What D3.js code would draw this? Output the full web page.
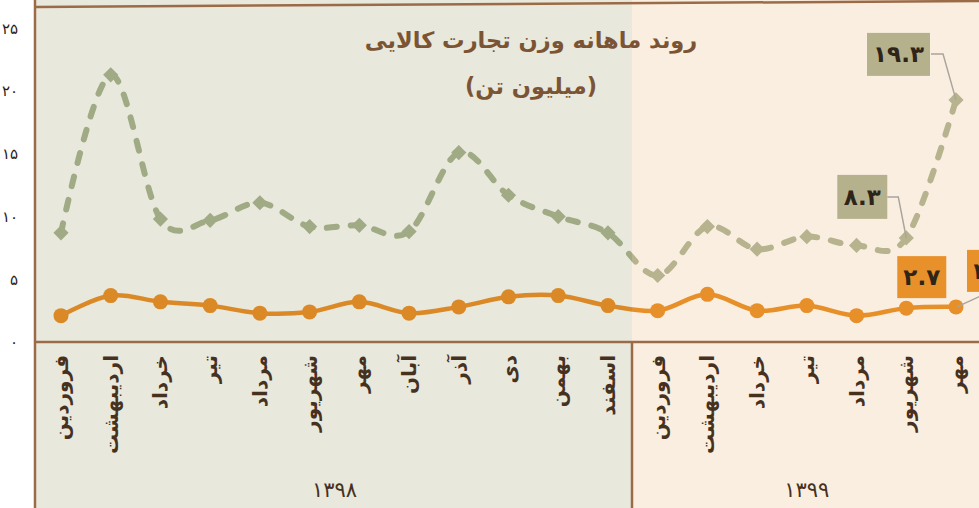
<!DOCTYPE html>
<html>
<head>
<meta charset="utf-8">
<script src="https://cdn.jsdelivr.net/npm/d3@7"></script>
<style>
  body { margin: 0; background: #fff; }
  svg { display: block; font-family: "DejaVu Sans", sans-serif; }
</style>
</head>
<body>
<svg id="chart" width="979" height="508"></svg>
<script>
// ماه‌ها و سال‌ها
var months = ["فروردین", "اردیبهشت", "خرداد", "تیر", "مرداد", "شهریور", "مهر", "آبان", "آذر", "دی", "بهمن", "اسفند",
              "فروردین", "اردیبهشت", "خرداد", "تیر", "مرداد", "شهریور", "مهر"];
var years = ["۱۳۹۸", "۱۳۹۹"];
var yearStart = [0, 12]; // index of first month of each year

// series values (million tonnes)
var seriesA = [8.7, 21.3, 9.8, 9.7, 11.1, 9.2, 9.3, 8.8, 15.1, 11.7, 10.0, 8.7,
               5.3, 9.2, 7.4, 8.4, 7.7, 8.3, 19.3];
var seriesB = [2.1, 3.7, 3.2, 2.9, 2.3, 2.4, 3.2, 2.3, 2.8, 3.6, 3.7, 2.9,
               2.5, 3.8, 2.5, 2.9, 2.1, 2.7, 2.8];

var yTicks = [0, 5, 10, 15, 20, 25];
var titleLines = ["روند ماهانه وزن تجارت کالایی", "(میلیون تن)"];

// annotated points: series, index
var notes = [
  {s: "A", i: 18, dx: -89, dy: -67, w: 63, h: 43, lead: [[-25, -46], [-13, -46], [0, 0]]},
  {s: "A", i: 17, dx: -69, dy: -63, w: 50, h: 44, lead: [[-19, -41], [-8, -41], [0, 0]]},
  {s: "B", i: 17, dx: -9, dy: -52, w: 49, h: 42, lead: null},
  {s: "B", i: 18, dx: 11, dy: -57, w: 50, h: 42, lead: [[38, -17], [1, 0]]}
];

var fa = function(v){ return String(v).replace(/\d/g, function(d){ return "۰۱۲۳۴۵۶۷۸۹"[d]; }); };

var W = 979, H = 508,
left = 35, top0 = 7, base = 342, split = 632;

// colores: [1399 side, 1398 side]
var bgCol = ["#faeee0", "#e8e8dc"],
colA = ["#b7b38e", "#a0aa84"],
colB = ["#e78f29", "#db8926"],
border = "#9b6b47", ink = "#46311f";

var svg = d3.select("#chart");

var x = d3.scalePoint()
  .domain(d3.range(months.length))
  .range([61, 956]);

var y = d3.scaleLinear()
  .domain([0, 25])
  .range([base, 28.4]);

var line = d3.line()
  .x(function(d, i){ return x(i); })
  .y(function(d){ return y(d); })
  .curve(d3.curveCardinal.tension(0));

svg.append("defs").append("clipPath")
  .attr("id", "y1398")
  .append("rect")
  .attr("x", left).attr("y", 0)
  .attr("width", split - left).attr("height", H);

// dibuja fondo + series con un juego de colores
function drawLayer(g, k){
  g.append("rect").attr("x", left).attr("y", 0).attr("width", W - left).attr("height", H).attr("fill", bgCol[k]);

  g.append("path")
  .datum(seriesA)
  .attr("d", line)
  .attr("fill", "none")
  .attr("stroke", colA[k])
  .attr("stroke-width", 6)
  .attr("stroke-dasharray", "10 14")
  .attr("stroke-linecap", "round");

  g.append("g").selectAll("path")
  .data(seriesA)
  .enter().append("path")
  .attr("d", d3.symbol(d3.symbolSquare, 115))
  .attr("transform", function(d, i){ return "translate(" + x(i) + "," + y(d) + ") rotate(45)"; })
  .attr("fill", colA[k]);

  g.append("path")
  .datum(seriesB)
  .attr("d", line)
  .attr("fill", "none")
  .attr("stroke", colB[k])
  .attr("stroke-width", 4.5);

  g.append("g").selectAll("circle")
  .data(seriesB)
  .enter().append("circle")
  .attr("cx", function(d, i){ return x(i); })
  .attr("cy", function(d){ return y(d); })
  .attr("r", 7.5)
  .attr("fill", colB[k]);
}

drawLayer(svg.append("g"), 0);
drawLayer(svg.append("g").attr("clip-path", "url(#y1398)"), 1);

// Título
svg.append("g").selectAll("text")
  .data(titleLines)
  .enter().append("text")
  .attr("x", 531)
  .attr("y", function(d, i){ return 48 + i * 46; })
  .attr("text-anchor", "middle")
  .attr("font-size", 22.5)
  .attr("font-weight", "bold")
  .attr("fill", "#7b5434")
  .text(function(d){ return d; });

// annotations
var ann = svg.append("g");
notes.forEach(function(n){
  var v = n.s === "A" ? seriesA[n.i] : seriesB[n.i],
  px = x(n.i), py = y(v),
  bx = px + n.dx, by = py + n.dy;
  if ( n.lead ){
    ann.append("polyline")
    .attr("points", n.lead.map(function(p){ return (px + p[0]) + "," + (py + p[1]); }).join(" "))
    .attr("fill", "none")
    .attr("stroke", "#aaa49b")
    .attr("stroke-width", 1.5);
  }
  ann.append("rect")
  .attr("x", bx).attr("y", by)
  .attr("width", n.w).attr("height", n.h)
  .attr("fill", n.s === "A" ? "#b6b18d" : "#e8902a");
  ann.append("text")
  .attr("x", bx + n.w / 2)
  .attr("y", by + n.h / 2 + 8)
  .attr("text-anchor", "middle")
  .attr("font-size", 23)
  .attr("font-weight", "bold")
  .attr("fill", "#2e2418")
  .text(fa(v.toFixed(1)));
});

// month labels
svg.append("g").selectAll("text")
  .data(months)
  .enter().append("text")
  .attr("transform", function(d, i){ return "translate(" + x(i) + ",355) rotate(-90)"; })
  .attr("dy", "0.35em")
  .attr("text-anchor", "end")
  .attr("font-size", 20)
  .attr("font-weight", "bold")
  .attr("fill", ink)
  .text(function(d){ return d; });

// year labels
svg.append("g").selectAll("text")
  .data(years)
  .enter().append("text")
  .attr("x", function(d, k){
    var a = yearStart[k], b = k + 1 < yearStart.length ? yearStart[k + 1] - 1 : months.length - 1;
    return (x(a) + x(b)) / 2;
  })
  .attr("y", 497)
  .attr("text-anchor", "middle")
  .attr("font-size", 21)
  .attr("fill", ink)
  .text(function(d){ return d; });

// y axis
var yAxis = d3.axisLeft(y)
  .tickValues(yTicks)
  .tickSize(0)
  .tickPadding(3)
  .tickFormat(fa);

svg.append("g")
  .attr("transform", "translate(21,0)")
  .call(yAxis)
  .call(function(g){ g.select(".domain").remove(); })
  .selectAll("text")
  .attr("font-family", "DejaVu Sans, sans-serif")
  .attr("font-size", 15)
  .attr("fill", "#2b2119");

// bordes
svg.append("line").attr("x1", left).attr("x2", left).attr("y1", 0).attr("y2", H)
  .attr("stroke", border).attr("stroke-width", 2.5);
svg.append("line").attr("x1", left).attr("x2", W).attr("y1", top0).attr("y2", 1)
  .attr("stroke", border).attr("stroke-width", 2.5);
svg.append("line").attr("x1", left).attr("x2", W).attr("y1", base).attr("y2", base)
  .attr("stroke", border).attr("stroke-width", 2.5);
svg.append("line").attr("x1", split).attr("x2", split).attr("y1", base).attr("y2", H)
  .attr("stroke", border).attr("stroke-width", 2.5);
</script>
</body>
</html>
